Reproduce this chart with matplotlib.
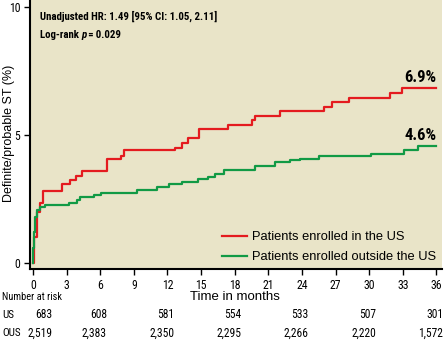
import matplotlib
matplotlib.use("Agg")
import matplotlib.pyplot as plt
from matplotlib import font_manager as fm

# ---- data ----
us_t = [0, 0.05, 0.33, 0.6, 0.9, 2.6, 3.3, 3.8, 4.35, 6.6, 7.85, 8.1, 12.7, 13.3, 13.8,
        14.8, 17.4, 19.5, 19.8, 22.0, 26.0, 26.7, 28.2, 31.9, 32.9, 36]
us_v = [0, 1.0, 2.0, 2.35, 2.8, 3.1, 3.25, 3.4, 3.6, 4.05, 4.2, 4.4, 4.5, 4.7, 4.9,
        5.25, 5.4, 5.6, 5.75, 5.95, 6.1, 6.3, 6.45, 6.65, 6.85, 6.85]
ous_t = [0, 0.03, 0.1, 0.2, 0.33, 0.6, 1.07, 3.25, 3.9, 4.2, 5.4, 6.1, 9.26, 11.05, 12.1,
         13.3, 14.7, 15.65, 16.25, 17.0, 19.8, 21.6, 22.9, 23.8, 25.5, 30.2, 33.1, 34.4, 36]
ous_v = [0, 0.6, 1.2, 1.8, 2.07, 2.2, 2.27, 2.35, 2.45, 2.57, 2.65, 2.72, 2.85, 2.98, 3.08,
         3.15, 3.3, 3.37, 3.46, 3.63, 3.79, 3.93, 4.02, 4.06, 4.19, 4.25, 4.41, 4.58, 4.58]

risk_times = [0, 6, 12, 18, 24, 30, 36]
risk_us = ["683", "608", "581", "554", "533", "507", "301"]
risk_ous = ["2,519", "2,383", "2,350", "2,295", "2,266", "2,220", "1,572"]
x_ticks = list(range(0, 37, 3))
y_ticks = [0, 5, 10]
us_label = "Patients enrolled in the US"
ous_label = "Patients enrolled outside the US"
us_final = "6.9%"
ous_final = "4.6%"

RED = "#E41B1F"
GREEN = "#119A45"
BG = "#E9E4C8"


def find_condensed(bold, italic=False):
    prefs = ["Narrow", "Condensed"]
    best = None
    for f in fm.fontManager.ttflist:
        name = f.fname.split("/")[-1]
        if not any(p in name for p in prefs):
            continue
        isital = ("Oblique" in name) or ("Italic" in name)
        if italic != isital:
            continue
        isbold = ("Bold" in name) and ("SemiBold" not in name) and ("ExtraBold" not in name)
        if bold != isbold:
            continue
        if not bold and any(w in name for w in ["Bold", "Light", "Thin", "Medium", "Black"]):
            continue
        score = 0
        if "SemiCondensed" in name:
            score = -1
        elif "Liberation" in name:
            score = 4
        elif "Roboto" in name:
            score = 3
        elif "Open" in name:
            score = 2
        elif "DejaVu" in name:
            score = 1
        if best is None or score > best[0]:
            best = (score, f.fname)
    if best is None:
        return fm.FontProperties(family="DejaVu Sans", weight="bold" if bold else "normal",
                                 style="italic" if italic else "normal",
                                 stretch="condensed")
    return fm.FontProperties(fname=best[1])


CREG = find_condensed(False)
CBOLD = find_condensed(True)
CBOLDIT = find_condensed(True, True)

fig = plt.figure(figsize=(4.48, 3.5), dpi=100)
ax = fig.add_axes([30/448, 1-269/350, 412/448, 269/350])
ax.set_facecolor(BG)

ax.plot(us_t, us_v, drawstyle="steps-post", color=RED, lw=1.6, label=us_label)
ax.plot(ous_t, ous_v, drawstyle="steps-post", color=GREEN, lw=1.6, label=ous_label)

ax.set_xlim(-0.27, 36.5)
ax.set_ylim(-0.23, 10.27)
for s in ["top", "right"]:
    ax.spines[s].set_visible(False)
for s in ["left", "bottom"]:
    ax.spines[s].set_linewidth(1.5)
ax.set_xticks(x_ticks)
ax.set_yticks(y_ticks)
ax.tick_params(direction="out", length=4, width=1, pad=3)
for lab in ax.get_xticklabels() + ax.get_yticklabels():
    lab.set_fontproperties(CREG)
    lab.set_fontsize(8.5)

fig.text(9/448, 1-133/350, "Definite/probable ST (%)", fontsize=9, family="Liberation Sans",
         rotation=90, va="center", ha="center")

FS_ANN = 7.8
ax.text(0.6, 9.65, "Unadjusted HR: 1.49 [95% CI: 1.05, 2.11]", fontproperties=CBOLD,
        fontsize=FS_ANN, va="center", ha="left")
t1 = ax.text(0.6, 8.9, "Log-rank ", fontproperties=CBOLD, fontsize=FS_ANN, va="center",
             ha="left")
fig.canvas.draw()
r = fig.canvas.get_renderer()
bb = t1.get_window_extent(r)
x_after = ax.transData.inverted().transform((bb.x1, bb.y0))[0]
t2 = ax.text(x_after, 8.9, "p", fontproperties=CBOLDIT, fontsize=FS_ANN, va="center",
             ha="left")
bb2 = t2.get_window_extent(r)
x_after2 = ax.transData.inverted().transform((bb2.x1, bb2.y0))[0]
ax.text(x_after2, 8.9, "\u2009=\u20090.029", fontproperties=CBOLD, fontsize=FS_ANN,
        va="center", ha="left")

ax.text(us_t[-1], us_v[-1] + 0.12, us_final, fontproperties=CBOLD, fontsize=12, ha="right",
        va="bottom")
ax.text(ous_t[-1], ous_v[-1] + 0.12, ous_final, fontproperties=CBOLD, fontsize=12, ha="right",
        va="bottom")

leg = ax.legend(loc="lower right", frameon=False, handlelength=1.9,
                handletextpad=0.4, labelspacing=0.6, borderaxespad=0.05,
                prop={"family": "Liberation Sans", "size": 9.3})

# number at risk
trans = ax.get_xaxis_transform()
fig.text(2/448, 1-297/350, "Number at risk", fontproperties=CREG, fontsize=7.5,
         va="center", ha="left")
fig.text(235/448, 1-297/350, "Time in months", fontsize=9.5, va="center", ha="center",
         family="Liberation Sans")
fig.text(2/448, 1-315/350, "US", fontproperties=CREG, fontsize=8, va="center", ha="left")
fig.text(2/448, 1-333/350, "OUS", fontproperties=CREG, fontsize=8, va="center", ha="left")
for i, t in enumerate(risk_times):
    xr = t + (1.7 if i == 0 else 0.6)
    ax.text(xr, -(315-269)/269, risk_us[i], transform=trans, fontproperties=CREG,
            fontsize=8.3, ha="right", va="center")
    ax.text(xr, -(333-269)/269, risk_ous[i], transform=trans, fontproperties=CREG,
            fontsize=8.3, ha="right", va="center")

fig.savefig("out.png", dpi=100)
